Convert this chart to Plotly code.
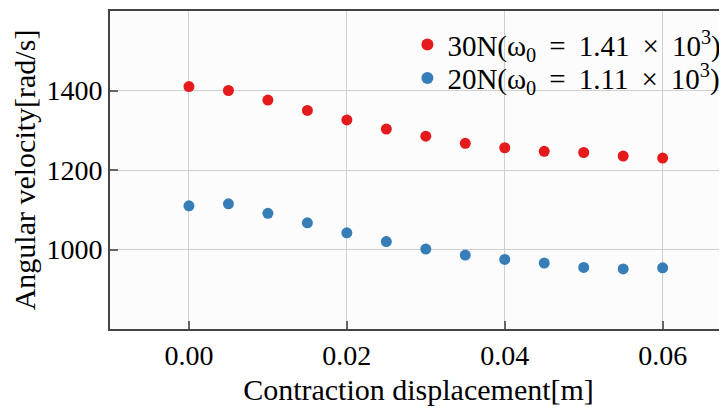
import plotly.graph_objects as go

displacement = [0.000, 0.005, 0.010, 0.015, 0.020, 0.025, 0.030, 0.035, 0.040, 0.045, 0.050, 0.055, 0.060]
omega_30N = [1410, 1400, 1376, 1350, 1326, 1303, 1285, 1267, 1256, 1247, 1244, 1235, 1230]
omega_20N = [1110, 1115, 1091, 1067, 1042, 1020, 1001, 986, 975, 966, 955, 951, 954]
SP = "\u00a0\u2009"
label_30N = f"30N(ω<sub>0</sub>{SP}={SP}1.41{SP}×{SP}10<sup>3</sup>)"
label_20N = f"20N(ω<sub>0</sub>{SP}={SP}1.11{SP}×{SP}10<sup>3</sup>)"
x_ticks = [0.00, 0.02, 0.04, 0.06]
x_tick_text = ["0.00", "0.02", "0.04", "0.06"]
y_ticks = [1000, 1200, 1400]

FONT = "Liberation Serif"
FS = 28
FT = 30
FL = 29

fig = go.Figure()
fig.add_trace(go.Scatter(x=displacement, y=omega_30N, mode="markers", name=label_30N,
                         legend="legend",
                         marker=dict(color="#e41a1c", size=11, line=dict(width=0))))
fig.add_trace(go.Scatter(x=displacement, y=omega_20N, mode="markers", name=label_20N,
                         legend="legend2",
                         marker=dict(color="#377eb8", size=11, line=dict(width=0))))

leg_common = dict(xanchor="left", yanchor="middle", bgcolor="rgba(0,0,0,0)",
                  font=dict(family=FONT, size=FL), itemsizing="constant",
                  tracegroupgap=0, itemwidth=30)

fig.update_layout(
    width=719, height=398,
    margin=dict(l=102, r=0, t=3, b=77, autoexpand=False),
    paper_bgcolor="white", plot_bgcolor="#fcfcfc",
    font=dict(family=FONT, size=FS, color="black"),
    showlegend=True,
    legend=dict(x=0.482, y=0.894, **leg_common),
    legend2=dict(x=0.482, y=0.789, **leg_common),
)
fig.update_xaxes(
    range=[-0.01, 0.06815], tickvals=x_ticks, ticktext=x_tick_text,
    showgrid=True, gridcolor="#d0d0d0", gridwidth=1,
    showline=True, linecolor="#444", linewidth=2, mirror=True,
    ticks="inside", ticklen=8, tickcolor="#666", tickwidth=2,
    zeroline=False, automargin=False,
    title=dict(text="Contraction displacement[m]", font=dict(family=FONT, size=FT), standoff=14),
)
fig.update_yaxes(
    range=[800, 1600], tickvals=y_ticks,
    showgrid=True, gridcolor="#d0d0d0", gridwidth=1,
    showline=True, linecolor="#444", linewidth=2, mirror=False,
    ticks="inside", ticklen=8, tickcolor="#666", tickwidth=2,
    zeroline=False, automargin=False,
    title=dict(text="Angular velocity[rad/s]", font=dict(family=FONT, size=FT), standoff=4),
)
fig.write_html("out.html")
